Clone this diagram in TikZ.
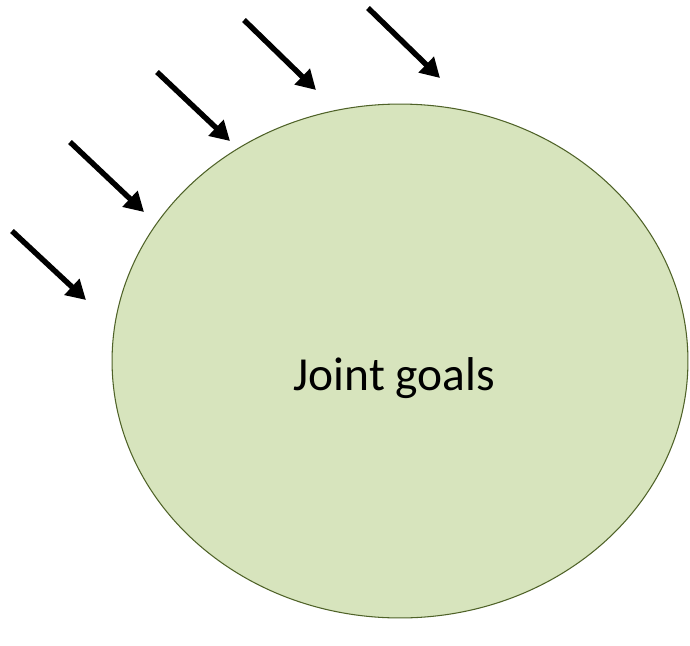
\documentclass[tikz,border=0pt]{standalone}
\usepackage{fontspec}
\setmainfont{Carlito}
\usetikzlibrary{shapes.geometric,arrows.meta}
\definecolor{goalfill}{HTML}{D7E4BD}
\definecolor{goaldraw}{HTML}{4F6228}
\begin{document}
\begin{tikzpicture}[x=0.02cm,y=-0.02cm,
    goal/.style={ellipse,draw=goaldraw,fill=goalfill,line width=0.6pt,
      minimum width=11.52cm,minimum height=10.28cm,inner sep=0pt},
    push/.style={line width=3.1pt,-{Triangle[length=11pt,width=12pt]}}]
    \useasboundingbox(0,0)rectangle(690,646);
    \node[goal](G)at(400,361){};
    \node[font=\fontsize{27}{32}\selectfont](T)at([xshift=-0.11cm,yshift=-0.34cm]G.center){Joint goals};
    \foreach \i/\sx/\sy/\ex/\ey in {1/12/231/86/300,2/70/142/144/212,3/157/72/230/141,4/244/20/316/90,5/368/8/440/78}{
      \coordinate(S\i)at(\sx,\sy);
      \coordinate(E\i)at(\ex,\ey);
      \draw[push](S\i)--(E\i);
    }
\end{tikzpicture}
\end{document}
